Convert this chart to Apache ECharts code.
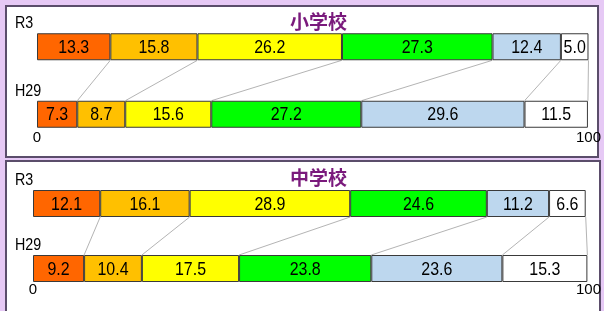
<!DOCTYPE html>
<html>
<head>
<meta charset="utf-8">
<script src="https://cdn.jsdelivr.net/npm/echarts@6/dist/echarts.min.js"></script>
<style>
  html, body { margin: 0; padding: 0; background: #e6c9f5; }
  #main { width: 604px; height: 311px; }
</style>
</head>
<body>
<div id="main"></div>
<script>
// 行（年度）
var rows = ['R3', 'H29'];
// 区分ごとの色
var colors = ['#ff6600', '#ffc000', '#ffff00', '#00ff00', '#bdd7ee', '#ffffff'];
var segNames = ['区分1', '区分2', '区分3', '区分4', '区分5', '区分6'];
// 小学校
var elemR3 = [13.3, 15.8, 26.2, 27.3, 12.4, 5.0];
var elemH29 = [7.3, 8.7, 15.6, 27.2, 29.6, 11.5];
// 中学校
var juniorR3 = [12.1, 16.1, 28.9, 24.6, 11.2, 6.6];
var juniorH29 = [9.2, 10.4, 17.5, 23.8, 23.6, 15.3];
var titles = ['小学校', '中学校'];

var FONT = '"Liberation Sans", Arial, sans-serif';
var BAR_W = 27;
var NARROW = 0.84; // 細めの字形に寄せる

function cumsum(arr) {
    var s = 0;
    return arr.map(function (v) { s += v; return +s.toFixed(1); });
}

function panelSeries(idx, r3, h29, labelGap) {
    var out = [];
    for (var i = 0; i < r3.length; i++) {
        out.push({
            name: segNames[i],
            type: 'bar',
            stack: 'p' + idx,
            xAxisIndex: idx,
            yAxisIndex: idx,
            barWidth: BAR_W,
            itemStyle: { color: colors[i], borderColor: '#3a3a3a', borderWidth: 1 },
            data: [r3[i], h29[i]]
        });
    }
    var a = cumsum(r3), b = cumsum(h29);

    // 連結線
    out.push({
        type: 'custom',
        xAxisIndex: idx, yAxisIndex: idx,
        encode: { x: [0, 1] },
        silent: true, z: 1,
        renderItem: function (params, api) {
            var p1 = api.coord([api.value(0), 0]);
            var p2 = api.coord([api.value(1), 1]);
            return {
                type: 'line',
                shape: { x1: p1[0], y1: p1[1] + BAR_W / 2, x2: p2[0], y2: p2[1] - BAR_W / 2 },
                style: { stroke: '#b4b4b4', lineWidth: 1 }
            };
        },
        data: a.map(function (v, k) { return [v, b[k]]; })
    });

    // 値ラベル
    var segs = [];
    [r3, h29].forEach(function (vals, row) {
        var ends = cumsum(vals);
        vals.forEach(function (v, k) { segs.push([ends[k] - v, ends[k], row, v]); });
    });
    out.push({
        type: 'custom',
        xAxisIndex: idx, yAxisIndex: idx,
        encode: { x: [0, 1], y: 2 },
        silent: true, z: 5,
        renderItem: function (params, api) {
            var p = api.coord([(api.value(0) + api.value(1)) / 2, api.value(2)]);
            return {
                type: 'text', x: p[0], y: p[1] + 1, scaleX: NARROW,
                style: {
                    text: api.value(3).toFixed(1), x: 0, y: 0,
                    align: 'center', verticalAlign: 'middle',
                    fill: '#000', font: '19px ' + FONT
                }
            };
        },
        data: segs
    });

    // 行ラベル（R3 / H29）
    out.push({
        type: 'custom',
        xAxisIndex: idx, yAxisIndex: idx,
        encode: { x: 0, y: 1 },
        silent: true, z: 5,
        renderItem: function (params, api) {
            var p = api.coord([0, api.value(1)]);
            return {
                type: 'text', x: p[0] - labelGap, y: p[1] - 23, scaleX: NARROW,
                style: {
                    text: rows[api.value(1)], x: 0, y: 0,
                    align: 'left', verticalAlign: 'middle',
                    fill: '#000', font: '17px ' + FONT
                }
            };
        },
        data: rows.map(function (r, k) { return [0, k]; })
    });
    return out;
}

var grids = [
    { left: 37, right: 7, top: 13, height: 135 },
    { left: 33, right: 7, top: 171, height: 130 }
];

var xAxes = grids.map(function (g, i) {
    return {
        gridIndex: i, type: 'value', min: 0, max: 100, interval: 100,
        axisLine: { show: false }, axisTick: { show: false }, splitLine: { show: false },
        axisLabel: { margin: i === 0 ? -18 : -19, color: '#000', fontFamily: FONT, fontSize: 15 }
    };
});
var yAxes = grids.map(function (g, i) {
    return {
        gridIndex: i, type: 'category', data: rows, inverse: true,
        axisLine: { show: false }, axisTick: { show: false },
        axisLabel: { show: false }
    };
});

var chart = echarts.init(document.getElementById('main'));
chart.setOption({
    backgroundColor: '#e6c9f5',
    animation: false,
    graphic: [
        { type: 'rect', z: -10, shape: { x: 6, y: 6, width: 592, height: 151 },
          style: { fill: '#fff', stroke: '#5b4d6b', lineWidth: 2 } },
        { type: 'rect', z: -10, shape: { x: 6, y: 161, width: 594, height: 170 },
          style: { fill: '#fff', stroke: '#5b4d6b', lineWidth: 2 } }
    ],
    title: [
        { text: titles[0], left: 285, top: 7,
          textStyle: { color: '#7a1a7c', fontSize: 19, fontWeight: 'bold', fontFamily: '"Noto Sans CJK JP", sans-serif' } },
        { text: titles[1], left: 285, top: 163,
          textStyle: { color: '#7a1a7c', fontSize: 19, fontWeight: 'bold', fontFamily: '"Noto Sans CJK JP", sans-serif' } }
    ],
    grid: grids,
    xAxis: xAxes,
    yAxis: yAxes,
    series: panelSeries(0, elemR3, elemH29, 22).concat(panelSeries(1, juniorR3, juniorH29, 18))
});
</script>
</body>
</html>
